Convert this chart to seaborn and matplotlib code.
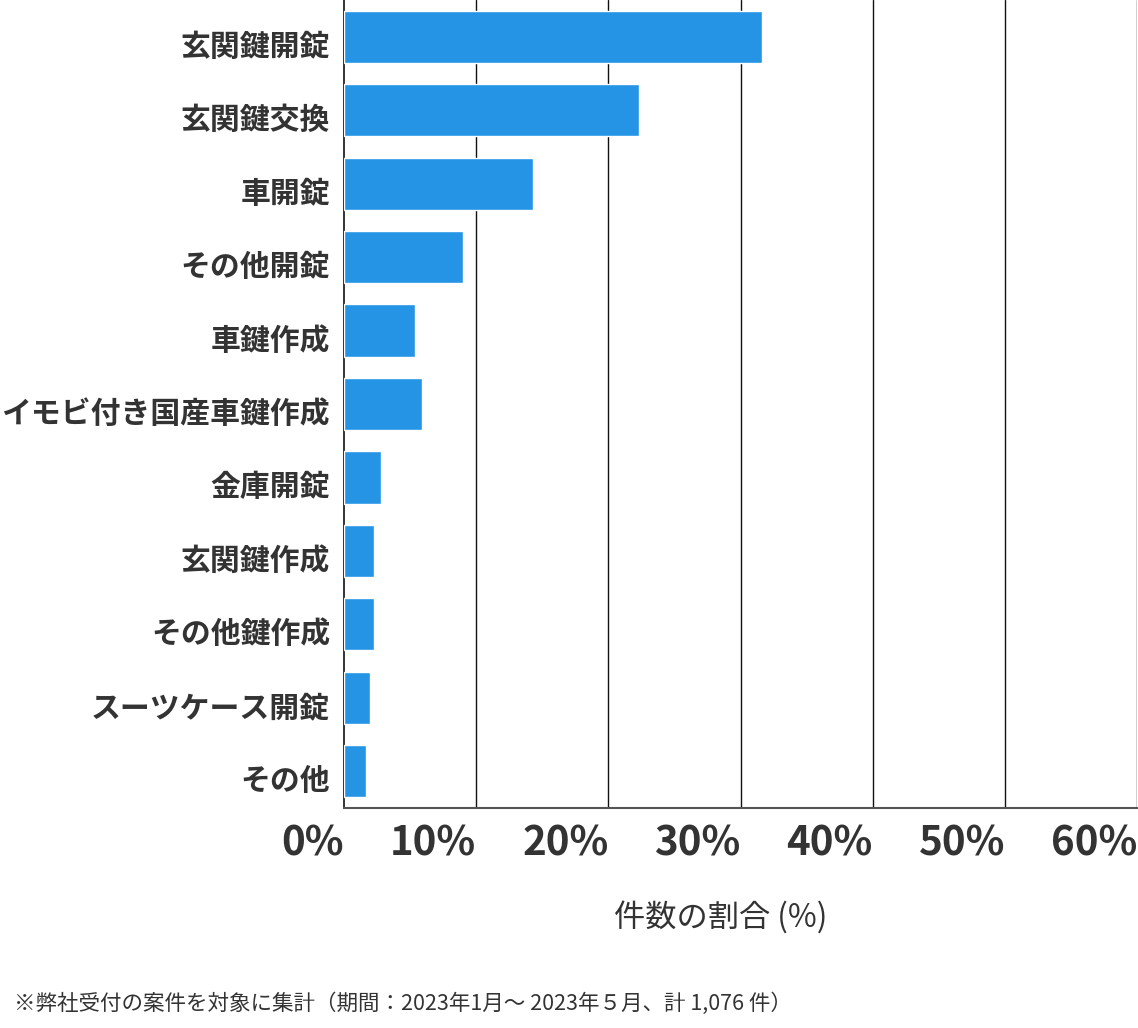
import matplotlib
matplotlib.use("Agg")
import matplotlib.pyplot as plt
import matplotlib.transforms as mtransforms
import pandas as pd
import seaborn as sns

# 作業種別ごとの件数割合（%）
categories = [
    "玄関鍵開錠",
    "玄関鍵交換",
    "車開錠",
    "その他開錠",
    "車鍵作成",
    "イモビ付き国産車鍵作成",
    "金庫開錠",
    "玄関鍵作成",
    "その他鍵作成",
    "スーツケース開錠",
    "その他",
]
shares = [31.6, 22.3, 14.3, 9.0, 5.4, 5.9, 2.8, 2.3, 2.3, 2.0, 1.7]
x_ticks = [0, 10, 20, 30, 40, 50, 60]
x_tick_labels = [f"{t}%" for t in x_ticks]

BAR_COLOR = "#2594e5"
TEXT_COLOR = "#333333"

sns.set_theme(style="white")
plt.rcParams["font.family"] = ["Noto Sans CJK JP", "DejaVu Sans"]

df = pd.DataFrame({"category": categories, "share": shares})

fig = plt.figure(figsize=(11.38, 10.28), dpi=100)
ax = fig.add_axes([344 / 1138, 1 - 808 / 1028, 793 / 1138, 808 / 1028])

sns.barplot(data=df, x="share", y="category", orient="h", color=BAR_COLOR,
            saturation=1, width=0.71, ax=ax, zorder=3)

ax.set_xlim(0, 60)
ax.set_ylim(10.5, -0.5)
ax.set_xticks(x_ticks)
ax.set_xticklabels(x_tick_labels, ha="right")
ax.tick_params(axis="x", length=0, pad=11)
ax.tick_params(axis="y", length=0, pad=10, labelcolor=TEXT_COLOR)
for lbl in ax.get_xticklabels():
    lbl.set_fontweight("bold")
    lbl.set_fontsize(29)
    lbl.set_color(TEXT_COLOR)
shift = mtransforms.ScaledTranslation(0, -7 / 100, fig.dpi_scale_trans)
for lbl in ax.get_yticklabels():
    lbl.set_fontweight("bold")
    lbl.set_fontsize(21.5)
    lbl.set_transform(lbl.get_transform() + shift)

# 縦グリッド線
for t in x_ticks[1:]:
    ax.axvline(t, color="#111111", linewidth=1, zorder=1)

for side in ["top", "right"]:
    ax.spines[side].set_visible(False)
ax.spines["left"].set_color("#111111")
ax.spines["left"].set_linewidth(1.2)
ax.spines["bottom"].set_color("#555555")
ax.spines["bottom"].set_linewidth(1.5)

ax.set_ylabel("")
ax.set_xlabel("")
fig.text(721 / 1138, 1 - 917 / 1028, "件数の割合 (%)", fontsize=22.5,
         color=TEXT_COLOR, ha="center", va="center")

fig.text(14 / 1138, 1 - 1004 / 1028,
         "※弊社受付の案件を対象に集計（期間：2023年1月～ 2023年５月、計 1,076 件）",
         fontsize=15.5, color=TEXT_COLOR, ha="left", va="center")

fig.savefig("out.png", dpi=100)
